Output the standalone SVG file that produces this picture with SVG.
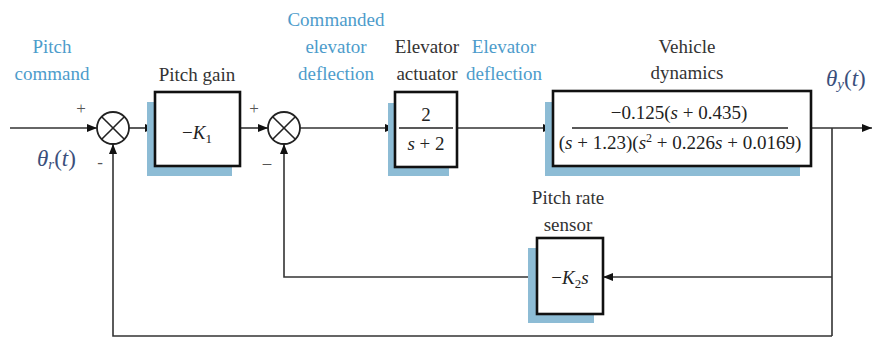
<svg xmlns="http://www.w3.org/2000/svg" width="875" height="339" viewBox="0 0 875 339">
  <defs>
    <marker id="arrow" viewBox="0 0 10 8" refX="10" refY="4" markerWidth="10" markerHeight="8" markerUnits="userSpaceOnUse" orient="auto">
      <path d="M0,0 L10,4 L0,8 Z" fill="#111"/>
    </marker>
    <style>
      .bg { fill: #ffffff; }
      .wire { fill: none; stroke: #333; stroke-width: 1.6; }
      .box { fill: #ffffff; stroke: #111; stroke-width: 2.6; }
      .shadow { fill: #8dbcd5; }
      .sum { fill: #ffffff; stroke: #222; stroke-width: 1.8; }
      .cross { stroke: #222; stroke-width: 1.6; }
      text { font-family: 'Liberation Serif', 'DejaVu Serif', serif; }
      .lbl { font-size: 19px; fill: #333; text-anchor: middle; }
      .sig { font-size: 19px; fill: #4d9ccb; text-anchor: middle; }
      .math { font-size: 19px; fill: #222; text-anchor: middle; }
      .var { font-size: 23px; fill: #3b4f7c; }
      .sign { font-size: 17px; fill: #555; text-anchor: middle; }
      .it { font-style: italic; }
    </style>
  </defs>

  <rect class="bg" x="0" y="0" width="875" height="339"/>

  <!-- signal lines -->
  <g id="connectors">
    <line class="wire" x1="10" y1="128" x2="97" y2="128" marker-end="url(#arrow)"/>
    <line class="wire" x1="129" y1="128" x2="155" y2="128" marker-end="url(#arrow)"/>
    <line class="wire" x1="240" y1="128" x2="268" y2="128" marker-end="url(#arrow)"/>
    <line class="wire" x1="300" y1="128" x2="395" y2="128" marker-end="url(#arrow)"/>
    <line class="wire" x1="457" y1="128" x2="553" y2="128" marker-end="url(#arrow)"/>
    <line class="wire" x1="811" y1="128" x2="872" y2="128" marker-end="url(#arrow)"/>
    <!-- pickoff from the output -->
    <polyline class="wire" points="832,128 832,336"/>
    <!-- inner rate loop -->
    <line class="wire" x1="832" y1="277" x2="603" y2="277" marker-end="url(#arrow)"/>
    <polyline class="wire" points="537,277 284,277 284,144" marker-end="url(#arrow)"/>
    <!-- outer pitch loop -->
    <polyline class="wire" points="832,336 113,336 113,144" marker-end="url(#arrow)"/>
  </g>

  <!-- summing junctions -->
  <g id="sum1">
    <circle class="sum" cx="113" cy="128" r="16"/>
    <line class="cross" x1="101.7" y1="116.7" x2="124.3" y2="139.3"/>
    <line class="cross" x1="124.3" y1="116.7" x2="101.7" y2="139.3"/>
    <text class="sign" font-family="Liberation Serif, serif" x="81" y="114">+</text>
    <text class="sign" font-family="Liberation Serif, serif" x="100" y="168">-</text>
  </g>
  <g id="sum2">
    <circle class="sum" cx="284" cy="128" r="16"/>
    <line class="cross" x1="272.7" y1="116.7" x2="295.3" y2="139.3"/>
    <line class="cross" x1="295.3" y1="116.7" x2="272.7" y2="139.3"/>
    <text class="sign" font-family="Liberation Serif, serif" x="254" y="114">+</text>
    <text class="sign" font-family="Liberation Serif, serif" x="267" y="168">–</text>
  </g>

  <!-- input signal -->
  <g id="input" font-family="Liberation Serif, serif">
    <text class="sig" x="52" y="53">Pitch</text>
    <text class="sig" x="52" y="80">command</text>
    <text class="var" x="37" y="166"><tspan class="it">θ</tspan><tspan class="it" font-size="15" dy="3">r</tspan><tspan dy="-3">(</tspan><tspan class="it">t</tspan>)</text>
  </g>

  <!-- pitch gain -->
  <g id="pitch-gain" font-family="Liberation Serif, serif">
    <rect class="shadow" x="147" y="102" width="85" height="74"/>
    <rect class="box" x="155" y="92" width="85" height="74"/>
    <text class="lbl" x="197" y="81">Pitch gain</text>
    <text class="math" x="197" y="139">−<tspan class="it">K</tspan><tspan font-size="13" dy="4">1</tspan></text>
  </g>

  <!-- commanded deflection label -->
  <g id="cmd-deflection" font-family="Liberation Serif, serif">
    <text class="sig" x="336" y="26">Commanded</text>
    <text class="sig" x="336" y="53">elevator</text>
    <text class="sig" x="336" y="80">deflection</text>
  </g>

  <!-- elevator actuator -->
  <g id="actuator" font-family="Liberation Serif, serif">
    <rect class="shadow" x="388" y="103" width="61" height="73"/>
    <rect class="box" x="395" y="92" width="62" height="75"/>
    <text class="lbl" x="427" y="53">Elevator</text>
    <text class="lbl" x="427" y="80">actuator</text>
    <text class="math" x="426" y="121" font-size="20">2</text>
    <line x1="399" y1="128" x2="453" y2="128" stroke="#222" stroke-width="1.4"/>
    <text class="math" x="426" y="150" font-size="20"><tspan class="it">s</tspan> + 2</text>
  </g>

  <!-- elevator deflection label -->
  <g id="deflection" font-family="Liberation Serif, serif">
    <text class="sig" x="504" y="53">Elevator</text>
    <text class="sig" x="504" y="80">deflection</text>
  </g>

  <!-- vehicle dynamics -->
  <g id="vehicle" font-family="Liberation Serif, serif">
    <rect class="shadow" x="545" y="102" width="255" height="74"/>
    <rect class="box" x="553" y="91" width="258" height="75"/>
    <text class="lbl" x="687" y="53">Vehicle</text>
    <text class="lbl" x="687" y="79">dynamics</text>
    <text class="math" x="679" y="119" font-size="18.5">−0.125(<tspan class="it">s</tspan> + 0.435)</text>
    <line x1="572" y1="128" x2="788" y2="128" stroke="#222" stroke-width="1.4"/>
    <text class="math" x="680" y="149" font-size="17.5">(<tspan class="it">s</tspan> + 1.23)(<tspan class="it">s</tspan><tspan font-size="12" dy="-7">2</tspan><tspan dy="7"> + 0.226</tspan><tspan class="it">s</tspan> + 0.0169)</text>
  </g>

  <!-- output signal -->
  <g id="output" font-family="Liberation Serif, serif">
    <text class="var" x="826" y="86"><tspan class="it">θ</tspan><tspan class="it" font-size="15" dy="3">y</tspan><tspan dy="-3">(</tspan><tspan class="it">t</tspan>)</text>
  </g>

  <!-- pitch rate sensor -->
  <g id="rate-sensor" font-family="Liberation Serif, serif">
    <rect class="shadow" x="528" y="248" width="66" height="75"/>
    <rect class="box" x="537" y="238" width="66" height="76"/>
    <text class="lbl" x="568" y="204">Pitch rate</text>
    <text class="lbl" x="568" y="231">sensor</text>
    <text class="math" x="570" y="284">−<tspan class="it">K</tspan><tspan font-size="13" dy="4">2</tspan><tspan class="it" dy="-4">s</tspan></text>
  </g>
</svg>
